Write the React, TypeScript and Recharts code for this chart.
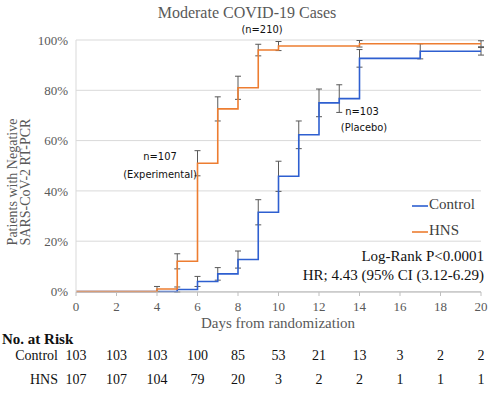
import React from 'react';
import {
  LineChart,
  Line,
  XAxis,
  YAxis,
  CartesianGrid,
  ErrorBar,
} from 'recharts';

// Kaplan-Meier style cumulative % negative
const controlDays = [0, 5, 6, 7, 8, 9, 10, 11, 12, 13, 14, 17, 20];
const controlPct = [0, 0.8, 4, 7, 12.7, 31.5, 45.8, 62.3, 75, 76.7, 92.7, 95.5, 95.5];
const controlErr = [0, 1, 2, 2.5, 3.4, 5, 6, 5.5, 5.5, 5.5, 3.5, 3, 1.5];

const hnsDays = [0, 4, 5, 6, 7, 8, 9, 10, 14, 20];
const hnsPct = [0, 1, 12, 51, 72.6, 81, 96, 97.6, 98.5, 98.5];
const hnsErr = [0, 1, 3, 5, 4.8, 4.6, 2.3, 1.8, 1.3, 1.2];

const xTicks = [0, 2, 4, 6, 8, 10, 12, 14, 16, 18, 20];
const yTicks = [0, 20, 40, 60, 80, 100];

const riskControl = [103, 103, 103, 100, 85, 53, 21, 13, 3, 2, 2];
const riskHns = [107, 107, 104, 79, 20, 3, 2, 2, 1, 1, 1];

const controlData = controlDays.map((d, i) => ({ day: d, pct: controlPct[i], err: controlErr[i] }));
const hnsData = hnsDays.map((d, i) => ({ day: d, pct: hnsPct[i], err: hnsErr[i] }));

const W = 490;
const H = 395;
const PLOT_LEFT = 76;
const PLOT_RIGHT = 481;
const xPos = (d: number) => PLOT_LEFT + (d / 20) * (PLOT_RIGHT - PLOT_LEFT);

const serif = '"Liberation Serif", "DejaVu Serif", serif';
const narrow = '"Liberation Sans Narrow", "DejaVu Sans", sans-serif';

const BLUE = '#2E5FD0';
const ORANGE = '#ED7D31';

export default function App() {
  return (
    <div style={{ position: 'absolute', left: 0, top: 0, width: W, height: H, background: '#fff' }}>
      <LineChart
        width={W}
        height={H}
        margin={{ top: 40, right: 9, bottom: 73, left: 0 }}
      >
        <CartesianGrid vertical={false} stroke="#d9d9d9" />
        <XAxis
          type="number"
          dataKey="day"
          domain={[0, 20]}
          ticks={xTicks}
          height={30}
          axisLine={{ stroke: '#bfbfbf' }}
          tickLine={{ stroke: '#bfbfbf' }}
          tickSize={4}
          tickMargin={6}
          tick={{ fill: '#595959', fontSize: 13, fontFamily: serif }}
        />
        <YAxis
          type="number"
          domain={[0, 100]}
          ticks={yTicks}
          width={76}
          axisLine={{ stroke: '#d9d9d9' }}
          tickLine={false}
          tickFormatter={(v) => `${v}%`}
          tick={{ fill: '#595959', fontSize: 13, fontFamily: serif }}
        />
        <Line
          data={controlData}
          dataKey="pct"
          type="stepAfter"
          stroke={BLUE}
          strokeWidth={1.6}
          dot={false}
          isAnimationActive={false}
        >
          <ErrorBar dataKey="err" direction="y" width={3} stroke="#595959" strokeWidth={1} />
        </Line>
        <Line
          data={hnsData}
          dataKey="pct"
          type="stepAfter"
          stroke={ORANGE}
          strokeWidth={1.6}
          dot={false}
          isAnimationActive={false}
        >
          <ErrorBar dataKey="err" direction="y" width={3} stroke="#595959" strokeWidth={1} />
        </Line>
      </LineChart>

      <svg
        width={W}
        height={H}
        style={{ position: 'absolute', left: 0, top: 0, pointerEvents: 'none' }}
      >
        <text x={247} y={14} textAnchor="middle" dominantBaseline="middle" fontFamily={serif} fontSize={16} fill="#595959">
          Moderate COVID-19 Cases
        </text>

        <g transform="translate(14,182) rotate(-90)">
          <text x={0} y={0} textAnchor="middle" dominantBaseline="middle" fontFamily={serif} fontSize={14} fill="#595959">
            Patients with Negative
          </text>
          <text x={0} y={13} textAnchor="middle" dominantBaseline="middle" fontFamily={serif} fontSize={14} fill="#595959">
            SARS-CoV-2 RT-PCR
          </text>
        </g>

        <text x={278} y={325} textAnchor="middle" dominantBaseline="middle" fontFamily={serif} fontSize={15} fill="#595959">
          Days from randomization
        </text>

        {/* annotations */}
        <g fontFamily={narrow} fontSize={11} fill="#111" textAnchor="middle" style={{ fontStretch: 'condensed' }}>
          <text x={262} y={30} dominantBaseline="middle">(n=210)</text>
          <text x={160} y={157} dominantBaseline="middle">n=107</text>
          <text x={160} y={175} dominantBaseline="middle">(Experimental)</text>
          <text x={362} y={112} dominantBaseline="middle">n=103</text>
          <text x={364} y={128} dominantBaseline="middle">(Placebo)</text>
        </g>

        {/* legend */}
        <line x1={412} x2={428} y1={206} y2={206} stroke={BLUE} strokeWidth={1.6} />
        <text x={429} y={206} dominantBaseline="middle" fontFamily={serif} fontSize={15} fill="#404040">Control</text>
        <line x1={412} x2={428} y1={232} y2={232} stroke={ORANGE} strokeWidth={1.6} />
        <text x={429} y={232} dominantBaseline="middle" fontFamily={serif} fontSize={15} fill="#404040">HNS</text>

        <text x={484} y={258} textAnchor="end" dominantBaseline="middle" fontFamily={serif} fontSize={15} fill="#111">
          Log-Rank P&lt;0.0001
        </text>
        <text x={484} y={277} textAnchor="end" dominantBaseline="middle" fontFamily={serif} fontSize={15} fill="#111">
          HR; 4.43 (95% CI (3.12-6.29)
        </text>

        {/* number at risk table */}
        <text x={2} y={341} dominantBaseline="middle" fontFamily={serif} fontSize={15} fontWeight="bold" fill="#111">
          No. at Risk
        </text>
        <text x={58} y={357} textAnchor="end" dominantBaseline="middle" fontFamily={serif} fontSize={14} fill="#111">Control</text>
        <text x={58} y={381} textAnchor="end" dominantBaseline="middle" fontFamily={serif} fontSize={14} fill="#111">HNS</text>
        {riskControl.map((n, i) => (
          <text key={`c-${i}`} x={xPos(xTicks[i])} y={357} textAnchor="middle" dominantBaseline="middle" fontFamily={serif} fontSize={14} fill="#111">
            {n}
          </text>
        ))}
        {riskHns.map((n, i) => (
          <text key={`h-${i}`} x={xPos(xTicks[i])} y={381} textAnchor="middle" dominantBaseline="middle" fontFamily={serif} fontSize={14} fill="#111">
            {n}
          </text>
        ))}
      </svg>
    </div>
  );
}
